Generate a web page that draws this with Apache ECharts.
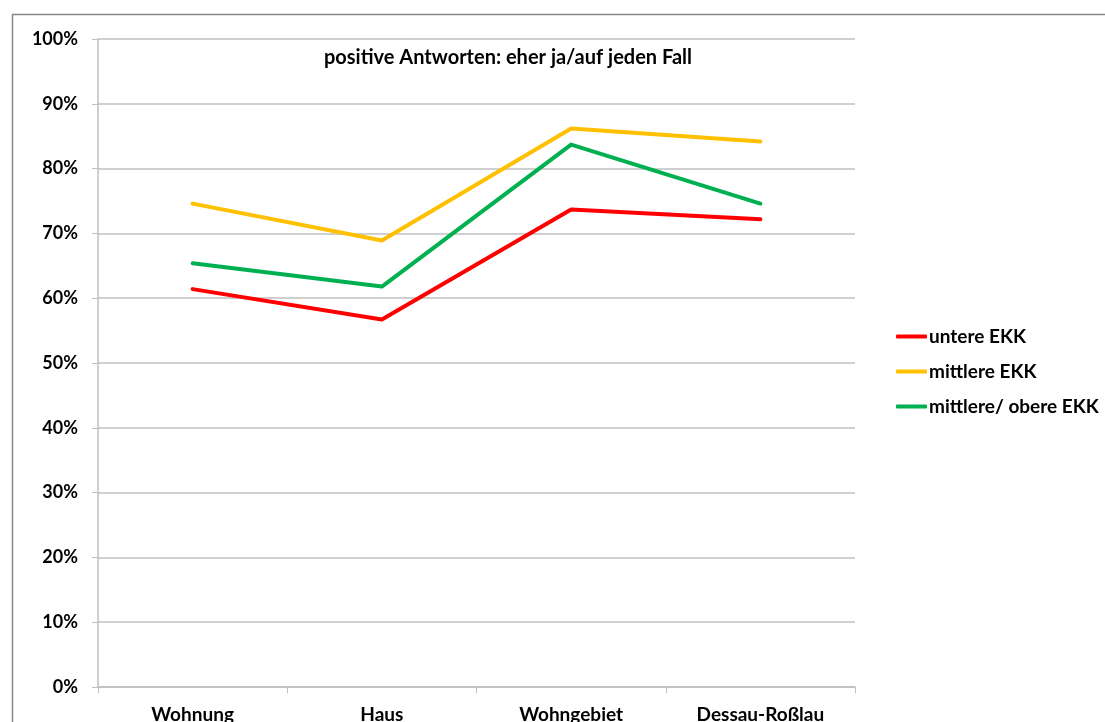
<!DOCTYPE html>
<html>
<head>
<meta charset="utf-8">
<script src="https://cdn.jsdelivr.net/npm/echarts@6/dist/echarts.min.js"></script>
<style>
  html, body { margin: 0; padding: 0; background: #fff; }
  #chart { width: 1105px; height: 722px; }
</style>
</head>
<body>
<div id="chart"></div>
<script>
// Datos (en %)
const kategorien = ['Wohnung', 'Haus', 'Wohngebiet', 'Dessau-Roßlau'];
const untereEKK = [61.4, 56.7, 73.7, 72.2];
const mittlereEKK = [74.6, 68.9, 86.2, 84.2];
const mittlereObereEKK = [65.4, 61.8, 83.7, 74.6];
const serienNamen = ['untere EKK', 'mittlere EKK', 'mittlere/ obere EKK'];
const farben = ['#FF0000', '#FFC000', '#00B050'];

const schrift = 'Lato, "Open Sans", sans-serif';

const myChart = echarts.init(document.getElementById('chart'));

function linie(name, data, farbe) {
    return {
        name: name,
        type: 'line',
        data: data,
        symbol: 'none',
        smooth: false,
        lineStyle: { color: farbe, width: 4, cap: 'round', join: 'round' },
        itemStyle: { color: farbe }
    };
}

myChart.setOption({
    animation: false,
    backgroundColor: '#fff',
    graphic: [{
        type: 'rect',
        left: 10,
        top: 12,
        shape: { width: 1200, height: 800 },
        style: { fill: 'none', stroke: '#878787', lineWidth: 1.5 },
        z: -10
    }],
    title: {
        text: 'positive Antworten: eher ja/auf jeden Fall',
        left: 503,
        top: 43,
        textAlign: 'center',
        textStyle: { fontFamily: schrift, fontWeight: 'bold', fontSize: 20, color: '#000' }
    },
    legend: {
        orient: 'vertical',
        left: 891,
        top: 322,
        itemGap: 16,
        itemWidth: 31,
        itemHeight: 4,
        icon: 'roundRect',
        data: serienNamen,
        textStyle: { fontFamily: schrift, fontWeight: 'bold', fontSize: 19, color: '#000', padding: [0, 0, 0, -3] }
    },
    grid: { left: 98, right: 250, top: 39, bottom: 35, containLabel: false, outerBoundsMode: 'none' },
    xAxis: {
        type: 'category',
        data: kategorien,
        boundaryGap: true,
        axisLine: { lineStyle: { color: '#BFBFBF', width: 1.5 } },
        axisTick: { show: true, length: 6, lineStyle: { color: '#BFBFBF' } },
        axisLabel: { margin: 18, fontFamily: schrift, fontWeight: 'bold', fontSize: 19, color: '#000' }
    },
    yAxis: {
        type: 'value',
        min: 0,
        max: 100,
        interval: 10,
        axisLine: { show: true, lineStyle: { color: '#BFBFBF', width: 1.5 } },
        axisTick: { show: true, length: 6, lineStyle: { color: '#BFBFBF' } },
        splitLine: { lineStyle: { color: '#BFBFBF', width: 1.5 } },
        axisLabel: { margin: 20, formatter: '{value}%', fontFamily: schrift, fontWeight: 'bold', fontSize: 18, color: '#000' }
    },
    series: [
        linie(serienNamen[0], untereEKK, farben[0]),
        linie(serienNamen[1], mittlereEKK, farben[1]),
        linie(serienNamen[2], mittlereObereEKK, farben[2])
    ]
});
</script>
</body>
</html>
